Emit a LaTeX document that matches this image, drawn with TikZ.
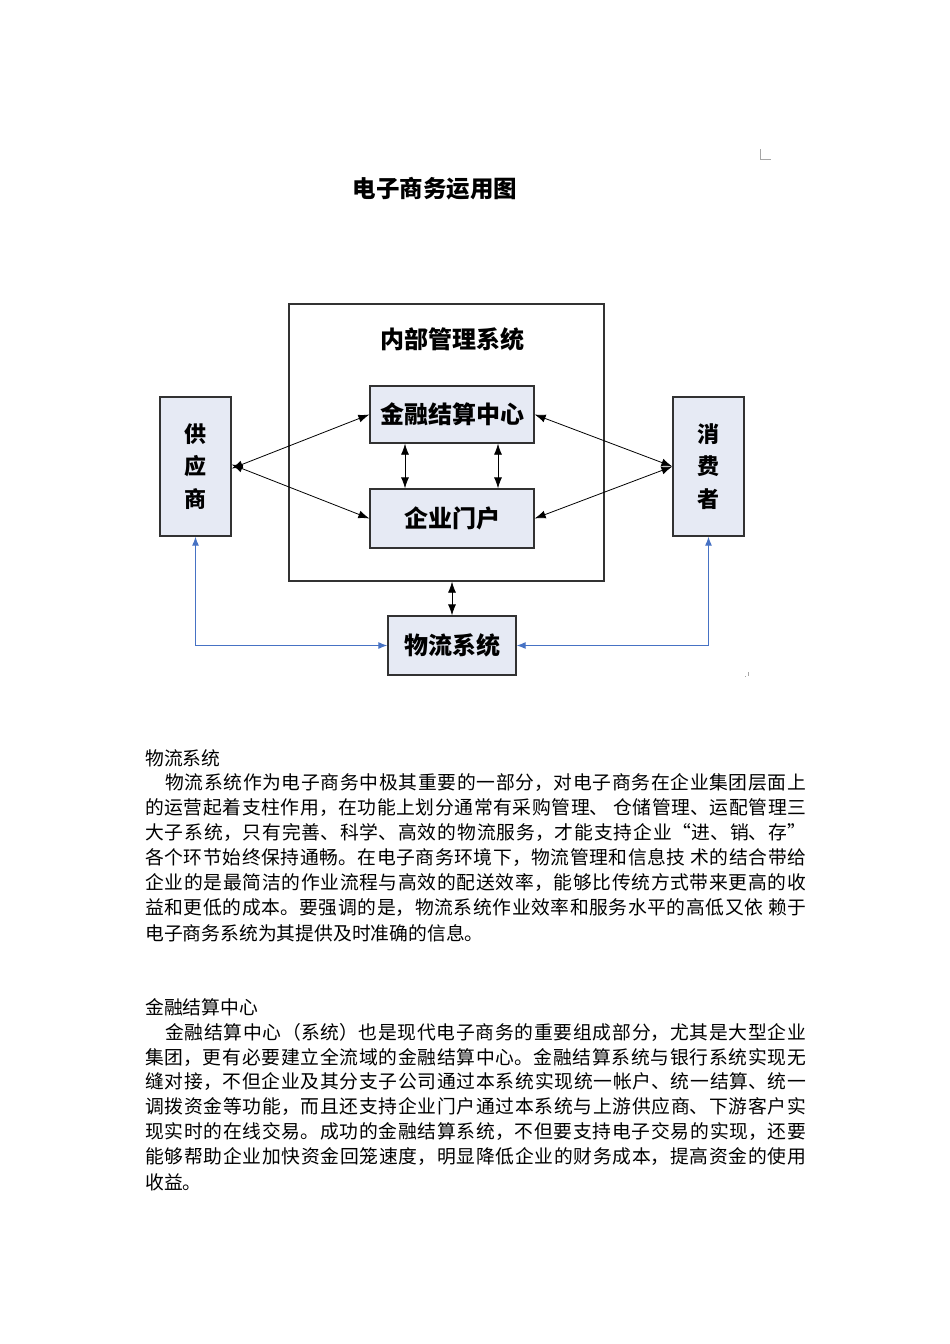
\documentclass[tikz,border=0pt]{standalone}
\usepackage{fontspec}
\newfontfamily\cjk{Noto Sans CJK SC}
\usetikzlibrary{arrows.meta}
\XeTeXlinebreaklocale "zh"
\XeTeXlinebreakskip=0pt plus 2pt
\definecolor{boxfill}{RGB}{230,234,244}
\definecolor{boxline}{RGB}{50,50,50}
\definecolor{flowblue}{RGB}{70,114,196}
\tikzset{
  sysbox/.style={draw=boxline,line width=1.3pt,fill=boxfill,inner sep=0pt,
    font=\cjk\bfseries\fontsize{24}{24}\selectfont},
  vbox/.style={sysbox,align=center,font=\cjk\bfseries\fontsize{22}{32.5}\selectfont},
  blk/.style={draw=black,line width=0.8pt,{Latex[length=11pt,width=8pt]}-{Latex[length=11pt,width=8pt]}},
  blu/.style={draw=flowblue,line width=1.1pt,{Latex[length=9pt,width=7pt]}-{Latex[length=9pt,width=7pt]}},
  body/.style={anchor=west,inner sep=0pt,font=\cjk\fontsize{18.8}{25}\selectfont},
}
\newcommand\jline[5]{\node[body,text width=#4pt,align=justify] (#1) at (#2,#3) {\leftskip=0pt\rightskip=0pt\parfillskip=0pt\relax #5\par};}
\begin{document}
\begin{tikzpicture}[x=1pt,y=-1pt]
\useasboundingbox (0,0) rectangle (950,1344);
\fill[white] (0,0) rectangle (950,1344);
% corner mark
\draw[gray!70,line width=0.7pt] (760,149) -- (760,159) -- (771,159);
% title
\node[font=\cjk\bfseries\fontsize{23.5}{23.5}\selectfont] (title) at (435,189) {电子商务运用图};
% diagram
\node[draw=boxline,line width=1.3pt,minimum width=315pt,minimum height=277pt,inner sep=0pt] (inner) at (446.5,442.5) {};
\node[font=\cjk\bfseries\fontsize{24}{24}\selectfont] (innert) at (452,339) {内部管理系统};
\node[sysbox,minimum width=164pt,minimum height=57pt] (fin) at (452,414.5) {金融结算中心};
\node[sysbox,minimum width=164pt,minimum height=59pt] (ent) at (452,518.5) {企业门户};
\node[vbox,minimum width=71pt,minimum height=139pt] (sup) at (195.5,466.5) {供\\应\\商};
\node[vbox,minimum width=71pt,minimum height=139pt] (con) at (708.5,466.5) {消\\费\\者};
\node[sysbox,minimum width=128pt,minimum height=59pt] (log) at (452,645.5) {物流系统};
% black arrows
\draw[blk] ([yshift=-2pt]sup.east) -- (fin.west);
\draw[blk] ([yshift=2pt]sup.east) -- (ent.west);
\draw[blk] (con.west) -- (fin.east);
\draw[blk] (con.west) -- (ent.east);
\coordinate (v1) at (405,0);
\coordinate (v2) at (498,0);
\draw[blk] (v1 |- fin.south) -- (v1 |- ent.north);
\draw[blk] (v2 |- fin.south) -- (v2 |- ent.north);
\draw[blk] (log.north |- inner.south) -- (log.north);
% blue arrows
\draw[blu] (sup.south) |- (log.west);
\draw[blu] (con.south) |- (log.east);
% small mark
\draw[gray!70,line width=0.6pt] (745,676) -- (745.8,676) (748,672) -- (748,676);
% text block 1
\node[body] (h1) at (145,758) {物流系统};
\jline{a1}{165}{783}{641}{物流系统作为电子商务中极其重要的一部分，对电子商务在企业集团层面上}
\jline{a2}{145}{808}{661}{的运营起着支柱作用，在功能上划分通常有采购管理、 仓储管理、运配管理三}
\jline{a3}{145}{833}{661}{大子系统，只有完善、科学、高效的物流服务，才能支持企业“进、销、存”}
\jline{a4}{145}{858}{661}{各个环节始终保持通畅。在电子商务环境下，物流管理和信息技 术的结合带给}
\jline{a5}{145}{883}{661}{企业的是最简洁的作业流程与高效的配送效率，能够比传统方式带来更高的收}
\jline{a6}{145}{908}{661}{益和更低的成本。要强调的是，物流系统作业效率和服务水平的高低又依 赖于}
\node[body] (a7) at (145,933) {电子商务系统为其提供及时准确的信息。};
% text block 2
\node[body] (h2) at (145,1007) {金融结算中心};
\jline{b1}{165}{1032}{641}{金融结算中心（系统）也是现代电子商务的重要组成部分，尤其是大型企业}
\jline{b2}{145}{1057}{661}{集团，更有必要建立全流域的金融结算中心。金融结算系统与银行系统实现无}
\jline{b3}{145}{1082}{661}{缝对接，不但企业及其分支子公司通过本系统实现统一帐户、统一结算、统一}
\jline{b4}{145}{1107}{661}{调拨资金等功能，而且还支持企业门户通过本系统与上游供应商、下游客户实}
\jline{b5}{145}{1132}{661}{现实时的在线交易。成功的金融结算系统，不但要支持电子交易的实现，还要}
\jline{b6}{145}{1157}{661}{能够帮助企业加快资金回笼速度，明显降低企业的财务成本，提高资金的使用}
\node[body] (b7) at (145,1182) {收益。};
\end{tikzpicture}
\end{document}
